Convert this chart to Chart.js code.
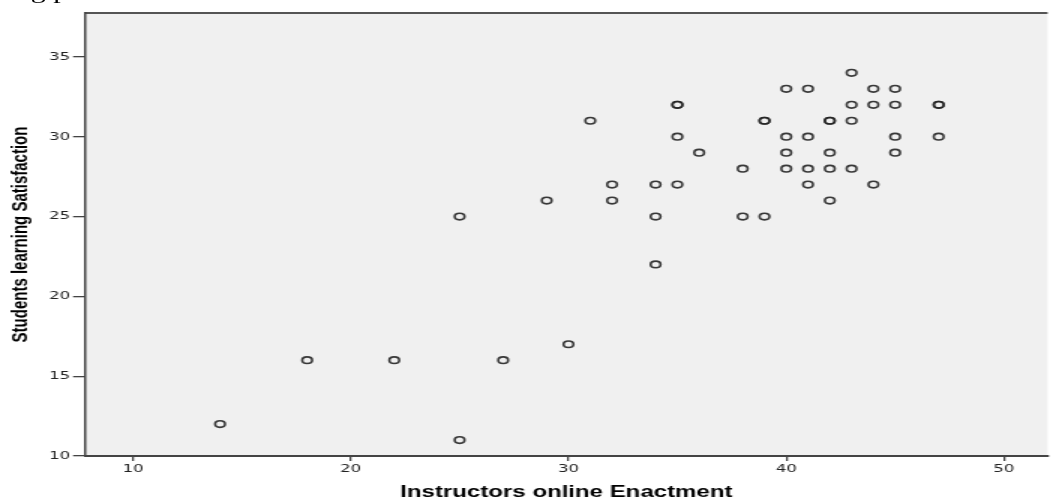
<!DOCTYPE html>
<html>
<head>
<meta charset="utf-8">
<script src="https://cdn.jsdelivr.net/npm/chart.js@4.4.1/dist/chart.umd.min.js"></script>
<style>
  body { margin: 0; background: #fff; overflow: hidden; }
  #wrap { position: absolute; left: 0; top: 0; width: 704px; height: 502px; transform: scaleX(1.5); transform-origin: 0 0; }
  #caption { position: absolute; left: 5px; top: -19px; font: 20px/20px "Liberation Serif", serif; color: #000; white-space: nowrap; }
</style>
</head>
<body>
<div id="wrap">
  <canvas id="scatter" width="704" height="502"></canvas>
  <div id="caption">ing positive correlation with the two variables</div>
</div>
<script>
// Instructors online Enactment (x) vs Students learning Satisfaction (y)
const enactment    = [14, 18, 22, 25, 25, 27, 29, 30, 31, 32, 32, 34, 34, 34, 35, 35, 35, 35, 36, 38, 38, 39, 39, 39, 40, 40, 40, 40, 41, 41, 41, 41, 42, 42, 42, 42, 42, 43, 43, 43, 43, 44, 44, 44, 45, 45, 45, 45, 47, 47, 47];
const satisfaction = [12, 16, 16, 25, 11, 16, 26, 17, 31, 27, 26, 27, 25, 22, 32, 32, 30, 27, 29, 28, 25, 31, 31, 25, 33, 30, 29, 28, 33, 30, 28, 27, 31, 31, 29, 28, 26, 34, 32, 31, 28, 33, 32, 27, 33, 32, 30, 29, 32, 32, 30];
const xTicks = [10, 20, 30, 40, 50];
const yTicks = [10, 15, 20, 25, 30, 35];

const points = enactment.map((x, i) => ({ x: x, y: satisfaction[i] }));

// grey plot background + top frame line
const plotFrame = {
  id: 'plotFrame',
  beforeDraw(chart) {
    const { ctx, chartArea: a } = chart;
    ctx.save();
    ctx.fillStyle = '#f0f0f0';
    ctx.fillRect(a.left, a.top, a.right - a.left, a.bottom - a.top);
    ctx.strokeStyle = '#555';
    ctx.lineWidth = 2;
    ctx.beginPath();
    ctx.moveTo(a.left, a.top);
    ctx.lineTo(a.right, a.top);
    ctx.stroke();
    ctx.restore();
  }
};

const tickFont = { family: 'DejaVu Sans', size: 11 };

new Chart(document.getElementById('scatter'), {
  type: 'scatter',
  data: {
    datasets: [{
      data: points,
      pointStyle: 'circle',
      pointRadius: 3.3,
      pointBorderWidth: 1.6,
      pointBorderColor: 'rgba(35,35,35,0.9)',
      pointBackgroundColor: 'rgba(0,0,0,0)'
    }]
  },
  options: {
    responsive: false,
    animation: false,
    layout: { padding: { top: 13, left: 0, right: 0, bottom: 0 } },
    plugins: { legend: { display: false }, tooltip: { enabled: false } },
    scales: {
      x: {
        type: 'linear',
        min: 7.8,
        max: 52,
        afterBuildTicks: s => { s.ticks = xTicks.map(v => ({ value: v })); },
        afterFit: s => { s.height = 46; },
        grid: { drawOnChartArea: false, tickLength: 5, color: '#444', lineWidth: 1.3 },
        border: { color: '#444', width: 2 },
        ticks: { font: tickFont, color: '#222', padding: 2 },
        title: {
          display: true,
          text: 'Instructors online Enactment',
          font: { family: 'Liberation Sans', size: 16, weight: 'bold' },
          color: '#000',
          padding: 0
        }
      },
      y: {
        min: 10,
        max: 37.75,
        afterBuildTicks: s => { s.ticks = yTicks.map(v => ({ value: v })); },
        afterFit: s => { s.width = 56.7; },
        grid: { drawOnChartArea: false, tickLength: 8, color: '#444', lineWidth: 1.3 },
        border: { color: '#444', width: 1.5 },
        ticks: { font: tickFont, color: '#222', padding: 2 },
        title: {
          display: true,
          text: 'Students learning Satisfaction',
          font: { family: 'Liberation Sans', size: 15, weight: 'bold' },
          color: '#000',
          padding: { top: 5, bottom: 0 }
        }
      }
    }
  },
  plugins: [plotFrame]
});
</script>
</body>
</html>
